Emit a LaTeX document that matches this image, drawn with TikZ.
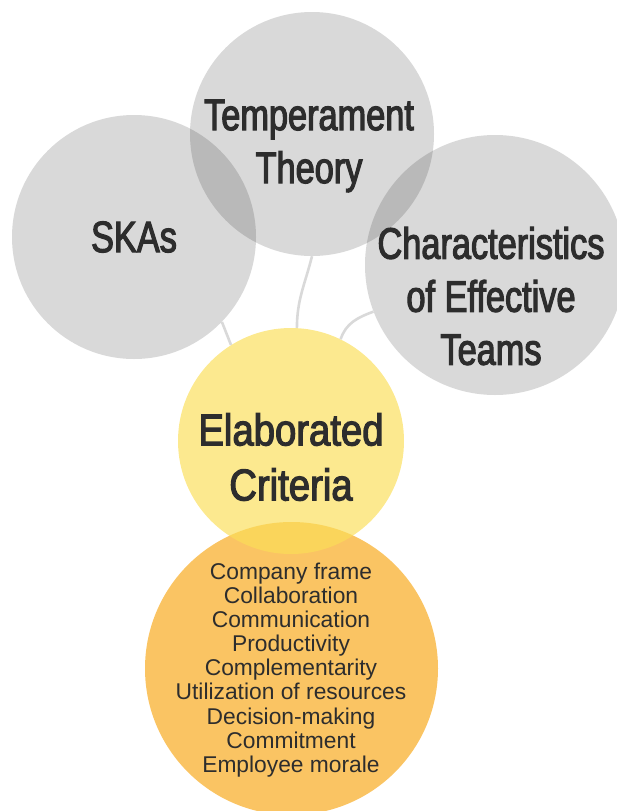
\documentclass[tikz,border=0pt]{standalone}
\usepackage{fontspec}
\setmainfont{Liberation Sans}
\newfontfamily\headfont[FakeStretch=0.78,FakeBold=2.6]{Liberation Sans}
\newfontfamily\corefont[FakeStretch=0.86,FakeBold=2.6]{Liberation Sans}
\definecolor{bubblegray}{RGB}{0,0,0}
\definecolor{linkgray}{RGB}{217,217,217}
\definecolor{centeryellow}{RGB}{251,222,88}
\definecolor{baseorange}{RGB}{250,196,99}
\definecolor{inktext}{RGB}{45,45,45}
\begin{document}
\begin{tikzpicture}[x=1pt,y=1pt,
  bubble/.style={circle,draw=none,inner sep=0pt,minimum size=#1},
  topic/.style={bubble=#1,fill=bubblegray,fill opacity=0.15},
  headtext/.style={inner sep=0pt,align=center,text=inktext,
    font=\headfont\fontsize{44}{53}\selectfont},
  coretext/.style={inner sep=0pt,align=center,text=inktext,
    font=\corefont\fontsize{44.5}{55}\selectfont},
  listtext/.style={inner sep=0pt,align=center,text=inktext,
    font=\fontsize{22.8}{24.1}\selectfont},
  link/.style={draw=linkgray,line width=2.6pt}]
\useasboundingbox (0,0) rectangle (617,-811);

% criteria base and the core bubble above it
\node[bubble=293,fill=baseorange] (base) at (291.5,-668.5) {};
\node[bubble=226,fill=centeryellow,fill opacity=0.67] (core) at (291,-441) {};

% the three source bubbles
\node[topic=244] (ska) at (134,-237) {};
\node[topic=244] (temp) at (312,-134) {};
\node[topic=260] (team) at (495,-265) {};

% links from each source to the core
\draw[link] (ska.-44) -- (core.122);
\draw[link] (temp.-90) to[out=-104,in=90] (core.87);
\draw[link] (core.64) to[out=72,in=200] (team.201);

% labels
\node[headtext] (skalabel) at (134,-237) {SKAs};
\node[headtext] (templabel) at (309,-146) {Temperament\\Theory};
\node[headtext] (teamlabel) at (491,-296) {Characteristics\\of Effective\\Teams};
\node[coretext] (corelabel) at (291,-457) {Elaborated\\Criteria};
\node[listtext] (baselabel) at (291,-670) {Company frame\\Collaboration\\Communication\\Productivity\\Complementarity\\Utilization of resources\\Decision-making\\Commitment\\Employee morale};
\end{tikzpicture}
\end{document}
